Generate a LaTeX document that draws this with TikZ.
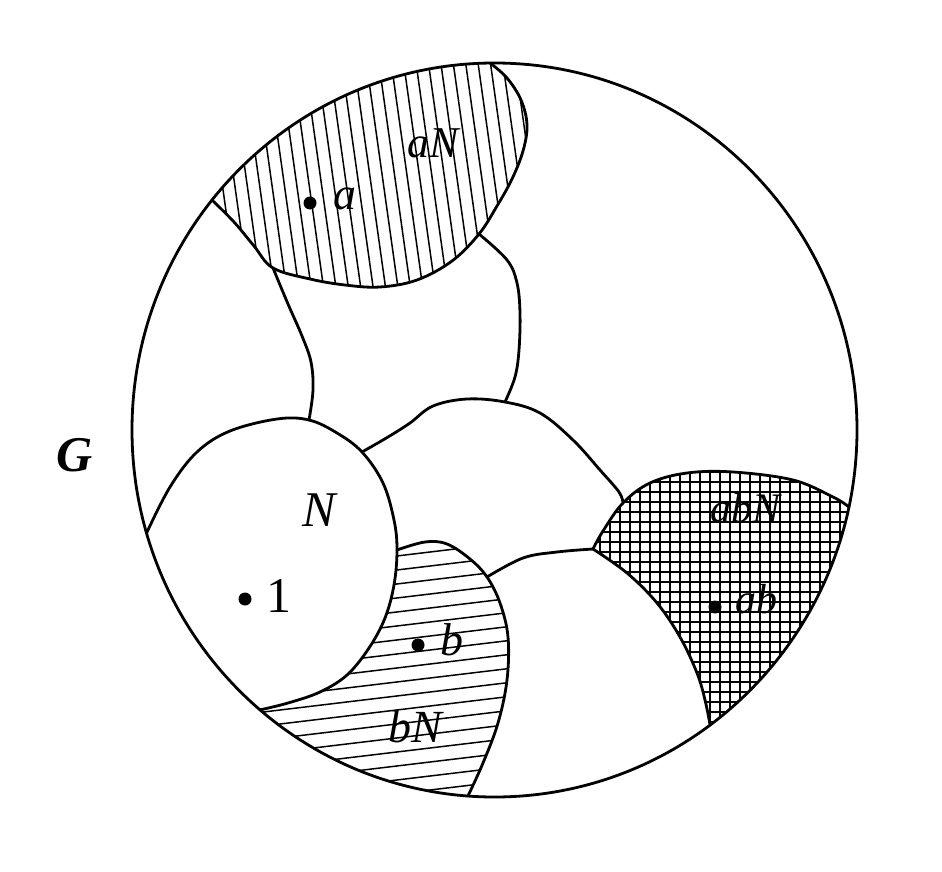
\documentclass[tikz,border=0pt]{standalone}
\usepackage{fontspec}
\setmainfont{Liberation Serif}
\usetikzlibrary{calc}
\begin{document}
\begin{tikzpicture}[x=1pt,y=-1pt,line join=round,line cap=round,
  bnd/.style={line width=2.8pt},
  hat/.style={line width=1.5pt},
  xhat/.style={line width=1.3pt},
  lab/.style={inner sep=0pt,anchor=center},
  pt/.style={circle,fill=black,draw=none,inner sep=0pt,minimum size=13pt}]
\useasboundingbox (0,0) rectangle (942,872);
\fill[white] (0,0) rectangle (942,872);
\coordinate (O) at (494.5,430);
% points on the circle
\coordinate (A1) at ($(O)+(218.8:362.5 and 367)$);
\coordinate (A2) at ($(O)+(269.3:362.5 and 367)$);
\coordinate (CNl) at ($(O)+(163.7:362.5 and 367)$);
\coordinate (CNb) at ($(O)+(130.3:362.5 and 367)$);
\coordinate (CbN) at ($(O)+(94.2:362.5 and 367)$);
\coordinate (CabB) at ($(O)+(53.5:362.5 and 367)$);
\coordinate (CabT) at ($(O)+(12.1:362.5 and 367)$);
% inner junctions
\coordinate (J1) at (273,268);
\coordinate (J2) at (479,234);
\coordinate (J3) at (309,420);
\coordinate (J4) at (505,402);
\coordinate (J5) at (362,452);
\coordinate (J6) at (397,550);
\coordinate (J7) at (623,503);
\coordinate (J8) at (593,549);
\coordinate (J9) at (487,577);

% ---- hatching of aN
\begin{scope}
  \clip (O) ellipse [x radius=362.5, y radius=367];
  \clip plot[smooth,tension=0.6] coordinates {(A1) (234,222) (254,246) (J1) (310,279) (345,285) (380,287) (417,280) (452,261) (J2) (497,206) (512,179) (523,151) (527,125) (521,100) (507,78) (A2)} -- (490,30) -- (200,110) -- (180,180) -- cycle;
  \foreach \i in {0,...,40} \draw[hat] ({140+12.4*\i},40) -- ({176.5+12.4*\i},300);
\end{scope}
% ---- hatching of bN
\begin{scope}
  \clip (O) ellipse [x radius=362.5, y radius=367];
  \clip plot[smooth,tension=0.6] coordinates {(J6) (425,542) (447,544) (470,559) (J9) (500,603) (508,637) (507,680) (498,723) (483,763) (CbN)} -- (470,840) -- (240,760) -- (CNb) -- plot[smooth,tension=0.6] coordinates {(CNb) (288,703) (320,692) (347,675) (369,648) (385,618) (394,585) (J6)} -- cycle;
  \foreach \i in {0,...,30} \draw[hat] (230,{520+14*\i}) -- (530,{484+14*\i});
\end{scope}
% ---- cross hatching of abN
\begin{scope}
  \clip (O) ellipse [x radius=362.5, y radius=367];
  \clip plot[smooth,tension=0.6] coordinates {(J8) (603,531) (J7) (650,483) (687,473) (733,472) (793,480) (833,497) (CabT)} -- (900,500) -- (900,720) -- (730,765) -- plot[smooth,tension=0.6] coordinates {(CabB) (705,700) (697,673) (680,637) (657,603) (627,573) (J8)} -- cycle;
  \foreach \i in {0,...,30} \draw[xhat] ({580+10*\i},460) -- ({580+10*\i},760);
  \foreach \i in {0,...,30} \draw[xhat] (580,{462+10*\i}) -- (880,{462+10*\i});
\end{scope}

% ---- outline
\draw[bnd] (O) ellipse [x radius=362.5, y radius=367];
% ---- boundaries
\draw[bnd] plot[smooth,tension=0.6] coordinates {(A1) (234,222) (254,246) (J1) (310,279) (345,285) (380,287) (417,280) (452,261) (J2) (497,206) (512,179) (523,151) (527,125) (521,100) (507,78) (A2)};
\draw[bnd] plot[smooth,tension=0.6] coordinates {(J1) (288,304) (302,336) (311,362) (313,390) (J3)};
\draw[bnd] plot[smooth,tension=0.6] coordinates {(J2) (507,260) (517,283) (520,313) (519,350) (515,377) (J4)};
\draw[bnd] plot[smooth,tension=0.6] coordinates {(CNl) (170,487) (197,452) (230,431) (277,419) (J3) (337,433) (J5) (383,483) (394,520) (J6) (394,585) (385,618) (369,648) (347,675) (320,692) (288,703) (CNb)};
\draw[bnd] plot[smooth,tension=0.6] coordinates {(J5) (388,437) (410,423) (433,406) (467,399) (J4) (540,413) (573,440) (600,470) (619,492) (J7)};
\draw[bnd] plot[smooth,tension=0.6] coordinates {(J6) (425,542) (447,544) (470,559) (J9) (500,603) (508,637) (507,680) (498,723) (483,763) (CbN)};
\draw[bnd] plot[smooth,tension=0.6] coordinates {(J9) (523,558) (557,552) (J8)};
\draw[bnd] plot[smooth,tension=0.6] coordinates {(J8) (603,531) (J7) (650,483) (687,473) (733,472) (793,480) (833,497) (CabT)};
\draw[bnd] plot[smooth,tension=0.6] coordinates {(J8) (627,573) (657,603) (680,637) (697,673) (705,700) (CabB)};

% ---- points
\node[pt] (da) at (310,203) {};
\node[pt] (d1) at (245,599) {};
\node[pt] (db) at (418,645) {};
\node[pt] (dab) at (715,607) {};

% ---- labels
\node[lab,font=\bfseries\itshape\fontsize{50}{50}\selectfont] (G) at (75,455) {G};
\node[lab,font=\itshape\fontsize{44}{44}\selectfont] (laN) at (433,143) {aN};
\node[lab,font=\itshape\fontsize{46}{46}\selectfont] (la) at (345,199) {a};
\node[lab,font=\itshape\fontsize{50}{50}\selectfont] (lN) at (319,510) {N};
\node[lab,font=\fontsize{50}{50}\selectfont] (l1) at (279,596) {1};
\node[lab,font=\itshape\fontsize{46}{46}\selectfont] (lb) at (452,640) {b};
\node[lab,font=\itshape\fontsize{46}{46}\selectfont] (lbN) at (415,727) {bN};
\node[lab,font=\itshape\fontsize{42}{42}\selectfont] (labN) at (745,508) {abN};
\node[lab,font=\itshape\fontsize{42}{42}\selectfont] (lab) at (756,599) {ab};
\end{tikzpicture}
\end{document}
